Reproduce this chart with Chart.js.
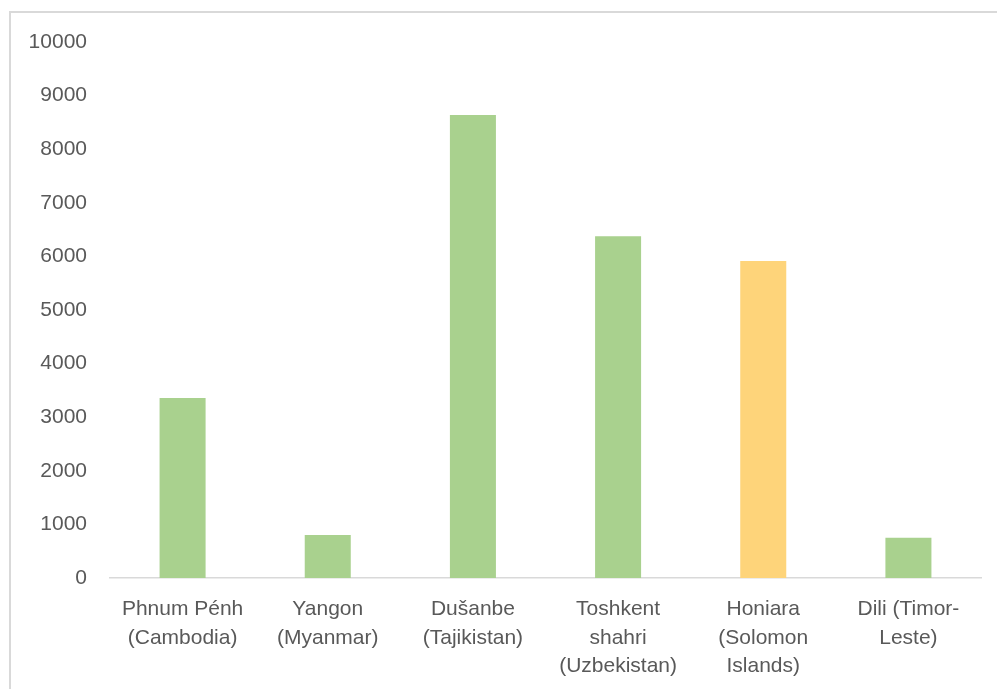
<!DOCTYPE html>
<html>
<head>
<meta charset="utf-8">
<script src="https://cdn.jsdelivr.net/npm/chart.js@4/dist/chart.umd.min.js"></script>
<style>
  html, body { margin: 0; padding: 0; background: #fff; overflow: hidden; }
  #wrap { position: relative; width: 998px; height: 689px; }
  #frame { position: absolute; left: 9px; top: 11px; width: 988px; height: 700px;
           border-left: 2px solid #d9d9d9; border-top: 2px solid #d9d9d9; box-sizing: border-box; }
  canvas { position: absolute; left: 0; top: 0; }
</style>
</head>
<body>
<div id="wrap">
  <div id="frame"></div>
  <canvas id="c" width="998" height="689"></canvas>
</div>
<script>
// Capital cities, one bar each (labels wrapped as in the axis)
const cities = [
  ["Phnum Pénh", "(Cambodia)"],
  ["Yangon", "(Myanmar)"],
  ["Dušanbe", "(Tajikistan)"],
  ["Toshkent", "shahri", "(Uzbekistan)"],
  ["Honiara", "(Solomon", "Islands)"],
  ["Dili (Timor-", "Leste)"]
];
const values = [3360, 800, 8640, 6375, 5915, 750];
const highlighted = [false, false, false, false, true, false];
const yTicks = [0, 1000, 2000, 3000, 4000, 5000, 6000, 7000, 8000, 9000, 10000];

const GREEN = "#A9D18E";
const GOLD = "#FED47A";
const TEXT = "#595959";
const FONT = { family: "'Liberation Sans', Arial, sans-serif", size: 21, lineHeight: 1.36 };

new Chart(document.getElementById("c"), {
  type: "bar",
  data: {
    labels: cities,
    datasets: [{
      data: values,
      backgroundColor: highlighted.map(h => h ? GOLD : GREEN),
      borderWidth: 0,
      categoryPercentage: 1,
      barPercentage: 0.317
    }]
  },
  options: {
    responsive: false,
    animation: false,
    devicePixelRatio: 1,
    layout: { padding: { left: 0, right: 17, top: 42, bottom: 0 } },
    plugins: { legend: { display: false }, tooltip: { enabled: false } },
    scales: {
      x: {
        grid: { display: false, drawTicks: false },
        border: { display: true, color: "#d9d9d9", width: 1.5 },
        ticks: { color: TEXT, font: FONT, padding: 17, maxRotation: 0, autoSkip: false },
        afterFit: s => { s.height = 111; }
      },
      y: {
        min: 0,
        max: 10000,
        afterBuildTicks: s => { s.ticks = yTicks.map(v => ({ value: v })); },
        grid: { display: false, drawTicks: false },
        border: { display: false },
        ticks: { color: TEXT, font: FONT, padding: 23, callback: v => String(v) },
        afterFit: s => { s.width = 110; }
      }
    }
  }
});
</script>
</body>
</html>
